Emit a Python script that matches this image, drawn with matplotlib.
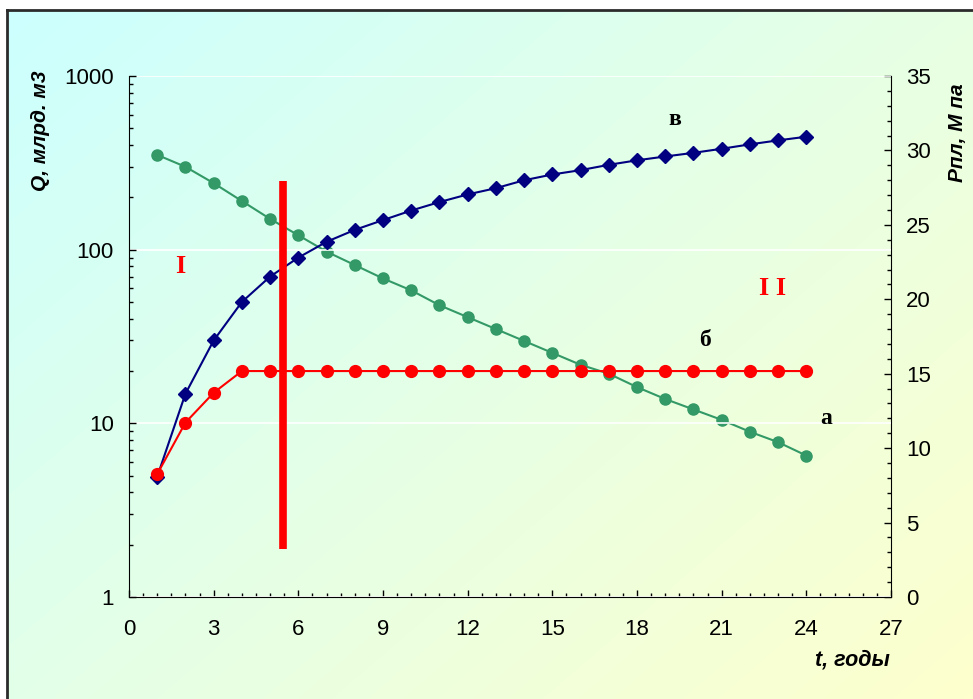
import numpy as np
import matplotlib

matplotlib.use("Agg")
import matplotlib.pyplot as plt
from matplotlib.ticker import MultipleLocator, LogLocator, NullFormatter, FixedLocator

plt.rcParams["font.family"] = ["Liberation Sans", "DejaVu Sans"]

# data
years = np.arange(1, 25)
q_cum = [4.93, 14.8, 30, 50, 70, 90, 111, 130, 148, 168, 188, 208, 226, 251,
         271, 287, 308, 327, 344, 361, 381, 404, 426, 447]          # в
q_year = [5.1, 10.1, 15, 20, 20, 20, 20, 20, 20, 20, 20, 20, 20, 20,
          20, 20, 20, 20, 20, 20, 20, 20, 20, 20]                     # б
p_res = [29.7, 28.9, 27.8, 26.6, 25.4, 24.3, 23.2, 22.3, 21.4, 20.6, 19.6, 18.8,
         18.0, 17.2, 16.4, 15.6, 15.0, 14.1, 13.3, 12.6, 11.9, 11.1, 10.4, 9.5]  # а

split_t = 5.45
split_q = (1.9, 250)

region_labels = [("I", 1.8, 80), ("I I", 22.8, 60)]
curve_labels = [("в", 19.35, 560), ("б", 20.4, 30), ("а", 24.7, 10.6)]

NAVY = "#000080"
GREEN = "#339966"
RED = "#FF0000"

W, H = 973, 699
fig = plt.figure(figsize=(W / 100, H / 100), dpi=100, facecolor="white")

# gradient background inside the outer frame
bg = fig.add_axes([7 / W, -0.01, 1.02 - 7 / W, (H - 10) / H + 0.01], zorder=-5)
gx, gy = np.meshgrid(np.linspace(0, 1, 300), np.linspace(0, 1, 300))
tt = np.clip((gx * 1.1 + gy * 0.9) / 2.0, 0, 1)
grad = np.dstack([(204 + 51 * tt) / 255, np.ones_like(tt), (255 - 51 * tt) / 255])
bg.imshow(grad, aspect="auto", extent=[0, 1, 0, 1], origin="upper")
bg.set_xticks([])
bg.set_yticks([])
for side in ("right", "bottom"):
    bg.spines[side].set_visible(False)
for side in ("left", "top"):
    bg.spines[side].set_color("#2b2b2b")
    bg.spines[side].set_linewidth(2)

ax = fig.add_axes([129 / W, (H - 597) / H, 762 / W, 521 / H])
ax.patch.set_alpha(0)
ax.set_yscale("log")
ax.set_ylim(1, 1000)
ax.set_xlim(0, 27)
ax.xaxis.set_major_locator(MultipleLocator(3))
ax.xaxis.set_minor_locator(MultipleLocator(0.5))
ax.yaxis.set_major_locator(FixedLocator([1, 10, 100, 1000]))
ax.yaxis.set_minor_locator(LogLocator(base=10, subs=np.arange(2, 10)))
ax.yaxis.set_minor_formatter(NullFormatter())
ax.set_yticklabels(["1", "10", "100", "1000"])
ax.tick_params(which="major", direction="in", length=5, width=1, labelsize=16, pad=11)
ax.tick_params(which="minor", direction="in", length=3, width=1)
ax.tick_params(axis="x", which="major", pad=16)
ax.grid(True, which="major", axis="y", color="white", linewidth=1.2)
ax.set_axisbelow(True)
for side in ("top", "right"):
    ax.spines[side].set_visible(False)

ax2 = ax.twinx()
ax2.set_ylim(0, 35)
ax2.yaxis.set_major_locator(MultipleLocator(5))
ax2.yaxis.set_minor_locator(MultipleLocator(1))
ax2.tick_params(which="major", direction="in", length=5, width=1, labelsize=16, pad=11)
ax2.tick_params(which="minor", direction="in", length=3, width=1)
for side in ("top", "left", "bottom"):
    ax2.spines[side].set_visible(False)

ax2.plot(years, p_res, color=GREEN, linewidth=1.5, marker="o", markersize=8,
         markeredgecolor=GREEN, zorder=3)
ax.plot(years, q_cum, color=NAVY, linewidth=1.5, marker="D", markersize=7.5,
        markeredgecolor=NAVY, zorder=4)
ax.plot(years, q_year, color=RED, linewidth=1.5, marker="o", markersize=8.5,
        markeredgecolor=RED, zorder=4)
ax.set_zorder(ax2.get_zorder() + 1)
ax2.patch.set_alpha(0)

ax.plot([split_t, split_t], split_q, color=RED, linewidth=5.5, solid_capstyle="butt", zorder=5)

for txt, tx, ty in region_labels:
    ax.text(tx, ty, txt, color=RED, fontsize=19, fontweight="bold",
            family="Liberation Serif", ha="center", va="center")
for txt, tx, ty in curve_labels:
    ax.text(tx, ty, txt, color="black", fontsize=17, fontweight="bold",
            family="Liberation Serif", ha="center", va="center")

fig.text(40 / W, 1 - 131 / H, "Q, млрд. м3", rotation=90, fontsize=15,
         fontweight="bold", style="italic", ha="center", va="center")
fig.text(958 / W, 1 - 133 / H, "Рпл, М па", rotation=90, fontsize=15,
         fontweight="bold", style="italic", ha="center", va="center")
fig.text(890 / W, 1 - 660 / H, "t, годы", fontsize=15.5,
         fontweight="bold", style="italic", ha="right", va="center")

fig.savefig("out.png", dpi=100, facecolor="white")
plt.close(fig)
